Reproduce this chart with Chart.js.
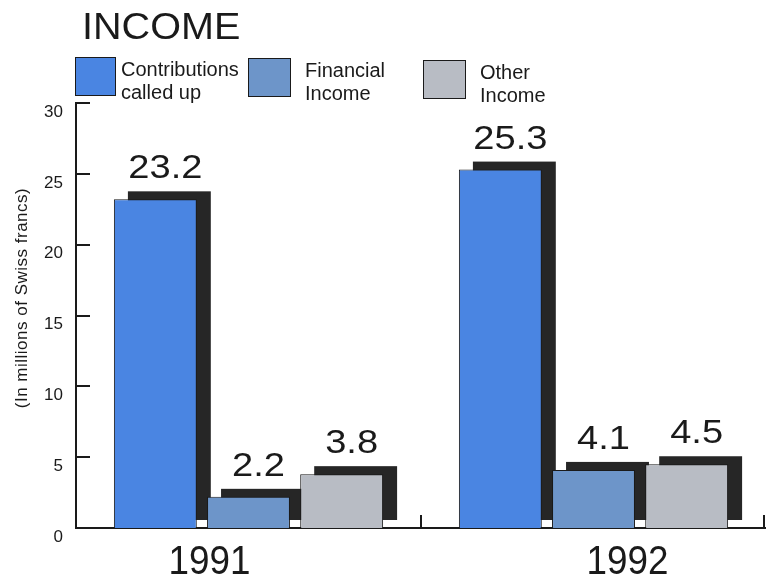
<!DOCTYPE html>
<html>
<head>
<meta charset="utf-8">
<script src="https://cdn.jsdelivr.net/npm/chart.js@4.4.1/dist/chart.umd.min.js"></script>
<style>
  body { margin: 0; background: #fff; font-family: "Liberation Sans", Arial, sans-serif; color: #1a1a1a; }
  #wrap { position: relative; width: 766px; height: 579px; }
  #title { position: absolute; left: 82px; top: 9px; font-size: 36px; line-height: 36px; transform: scaleX(1.1); transform-origin: 0 0; }
  .key { position: absolute; font-size: 20px; line-height: 23px; }
  .sw { position: absolute; border: 1.5px solid #1a1a1a; }
</style>
</head>
<body>
<div id="wrap">
  <canvas id="chart" width="766" height="579"></canvas>
  <div id="title">INCOME</div>
  <div class="sw" style="left:75px;top:57px;width:39px;height:37px;background:#4a85e2"></div>
  <div class="key" style="left:121px;top:58px">Contributions<br>called up</div>
  <div class="sw" style="left:248px;top:58px;width:41px;height:37px;background:#6d95c9"></div>
  <div class="key" style="left:305px;top:59px">Financial<br>Income</div>
  <div class="sw" style="left:423px;top:60px;width:41px;height:37px;background:#b8bcc4"></div>
  <div class="key" style="left:480px;top:61px">Other<br>Income</div>
</div>
<script>
const years = ['1991', '1992'];
const contributions = [23.2, 25.3];
const financial = [2.2, 4.1];
const other = [3.8, 4.5];
const yTicks = [0, 5, 10, 15, 20, 25, 30];

const FONT = '"Liberation Sans", Arial, sans-serif';
const shadowDx = 14, shadowDy = 8;
const yearShift = [-39, 34];   // year captions sit off the group centre in the original

function stretchedText(ctx, text, x, y, sx) {
  ctx.save();
  ctx.translate(x, y);
  ctx.scale(sx, 1);
  ctx.fillText(text, 0, 0);
  ctx.restore();
}

// dark offset block behind each bar, value labels, year captions, inward ticks
const decor = {
  id: 'decor',
  beforeDatasetsDraw(chart) {
    const ctx = chart.ctx;
    ctx.save();
    ctx.fillStyle = '#262626';
    chart.data.datasets.forEach((ds, i) => {
      chart.getDatasetMeta(i).data.forEach(bar => {
        const w = bar.width;
        ctx.fillRect(bar.x - w / 2 + shadowDx, bar.y - shadowDy, w, bar.base - bar.y);
      });
    });
    ctx.restore();
  },
  afterDatasetsDraw(chart) {
    const ctx = chart.ctx;
    ctx.save();
    ctx.fillStyle = '#1a1a1a';
    ctx.textAlign = 'center';
    ctx.textBaseline = 'alphabetic';
    ctx.font = '34px ' + FONT;
    chart.data.datasets.forEach((ds, i) => {
      chart.getDatasetMeta(i).data.forEach((bar, j) => {
        stretchedText(ctx, ds.data[j].toFixed(1), bar.x + 10, bar.y - 21, 1.12);
      });
    });
    ctx.restore();
  },
  afterDraw(chart) {
    const ctx = chart.ctx;
    const y = chart.scales.y, x = chart.scales.x;
    const area = chart.chartArea;
    ctx.save();
    ctx.strokeStyle = '#1a1a1a';
    ctx.lineWidth = 2;
    ctx.beginPath();
    yTicks.slice(1).forEach(v => {
      const py = Math.round(y.getPixelForValue(v));
      ctx.moveTo(area.left, py);
      ctx.lineTo(area.left + 14, py);
    });
    const mid = (x.getPixelForValue(0) + x.getPixelForValue(1)) / 2;
    ctx.moveTo(mid, area.bottom);
    ctx.lineTo(mid, area.bottom - 13);
    ctx.moveTo(area.right - 2, area.bottom);
    ctx.lineTo(area.right - 2, area.bottom - 13);
    ctx.stroke();

    ctx.fillStyle = '#1a1a1a';
    ctx.textAlign = 'center';
    ctx.font = '40px ' + FONT;
    years.forEach((yr, i) => {
      stretchedText(ctx, yr, x.getPixelForValue(i) + yearShift[i], 574, 0.92);
    });

    // axis caption
    ctx.font = '17px ' + FONT;
    ctx.letterSpacing = '0.5px';
    ctx.textBaseline = 'middle';
    ctx.translate(22, 298);
    ctx.rotate(-Math.PI / 2);
    ctx.fillText('(In millions of Swiss francs)', 0, 0);
    ctx.restore();
  }
};

const barStyle = { borderColor: '#1a1a1a', borderWidth: 1, barPercentage: 0.89, categoryPercentage: 0.81 };

new Chart(document.getElementById('chart'), {
  type: 'bar',
  data: {
    labels: years,
    datasets: [
      { label: 'Contributions called up', data: contributions, backgroundColor: '#4a85e2', ...barStyle },
      { label: 'Financial Income', data: financial, backgroundColor: '#6d95c9', ...barStyle },
      { label: 'Other Income', data: other, backgroundColor: '#b8bcc4', ...barStyle }
    ]
  },
  options: {
    responsive: false,
    animation: false,
    layout: { padding: { top: 103, right: 0, left: 0, bottom: 0 } },
    plugins: { legend: { display: false }, tooltip: { enabled: false } },
    scales: {
      x: {
        grid: { display: false, drawTicks: false },
        border: { display: true, color: '#1a1a1a', width: 2 },
        ticks: { display: false },
        afterFit(scale) { scale.height = 51; }
      },
      y: {
        min: 0, max: 30,
        afterBuildTicks(scale) { scale.ticks = yTicks.map(v => ({ value: v })); },
        grid: { display: false, drawTicks: false },
        border: { display: true, color: '#1a1a1a', width: 2 },
        ticks: { color: '#1a1a1a', font: { size: 17, family: FONT }, padding: 13, labelOffset: 9 },
        afterFit(scale) { scale.width = 76; }
      }
    }
  },
  plugins: [decor]
});
</script>
</body>
</html>
